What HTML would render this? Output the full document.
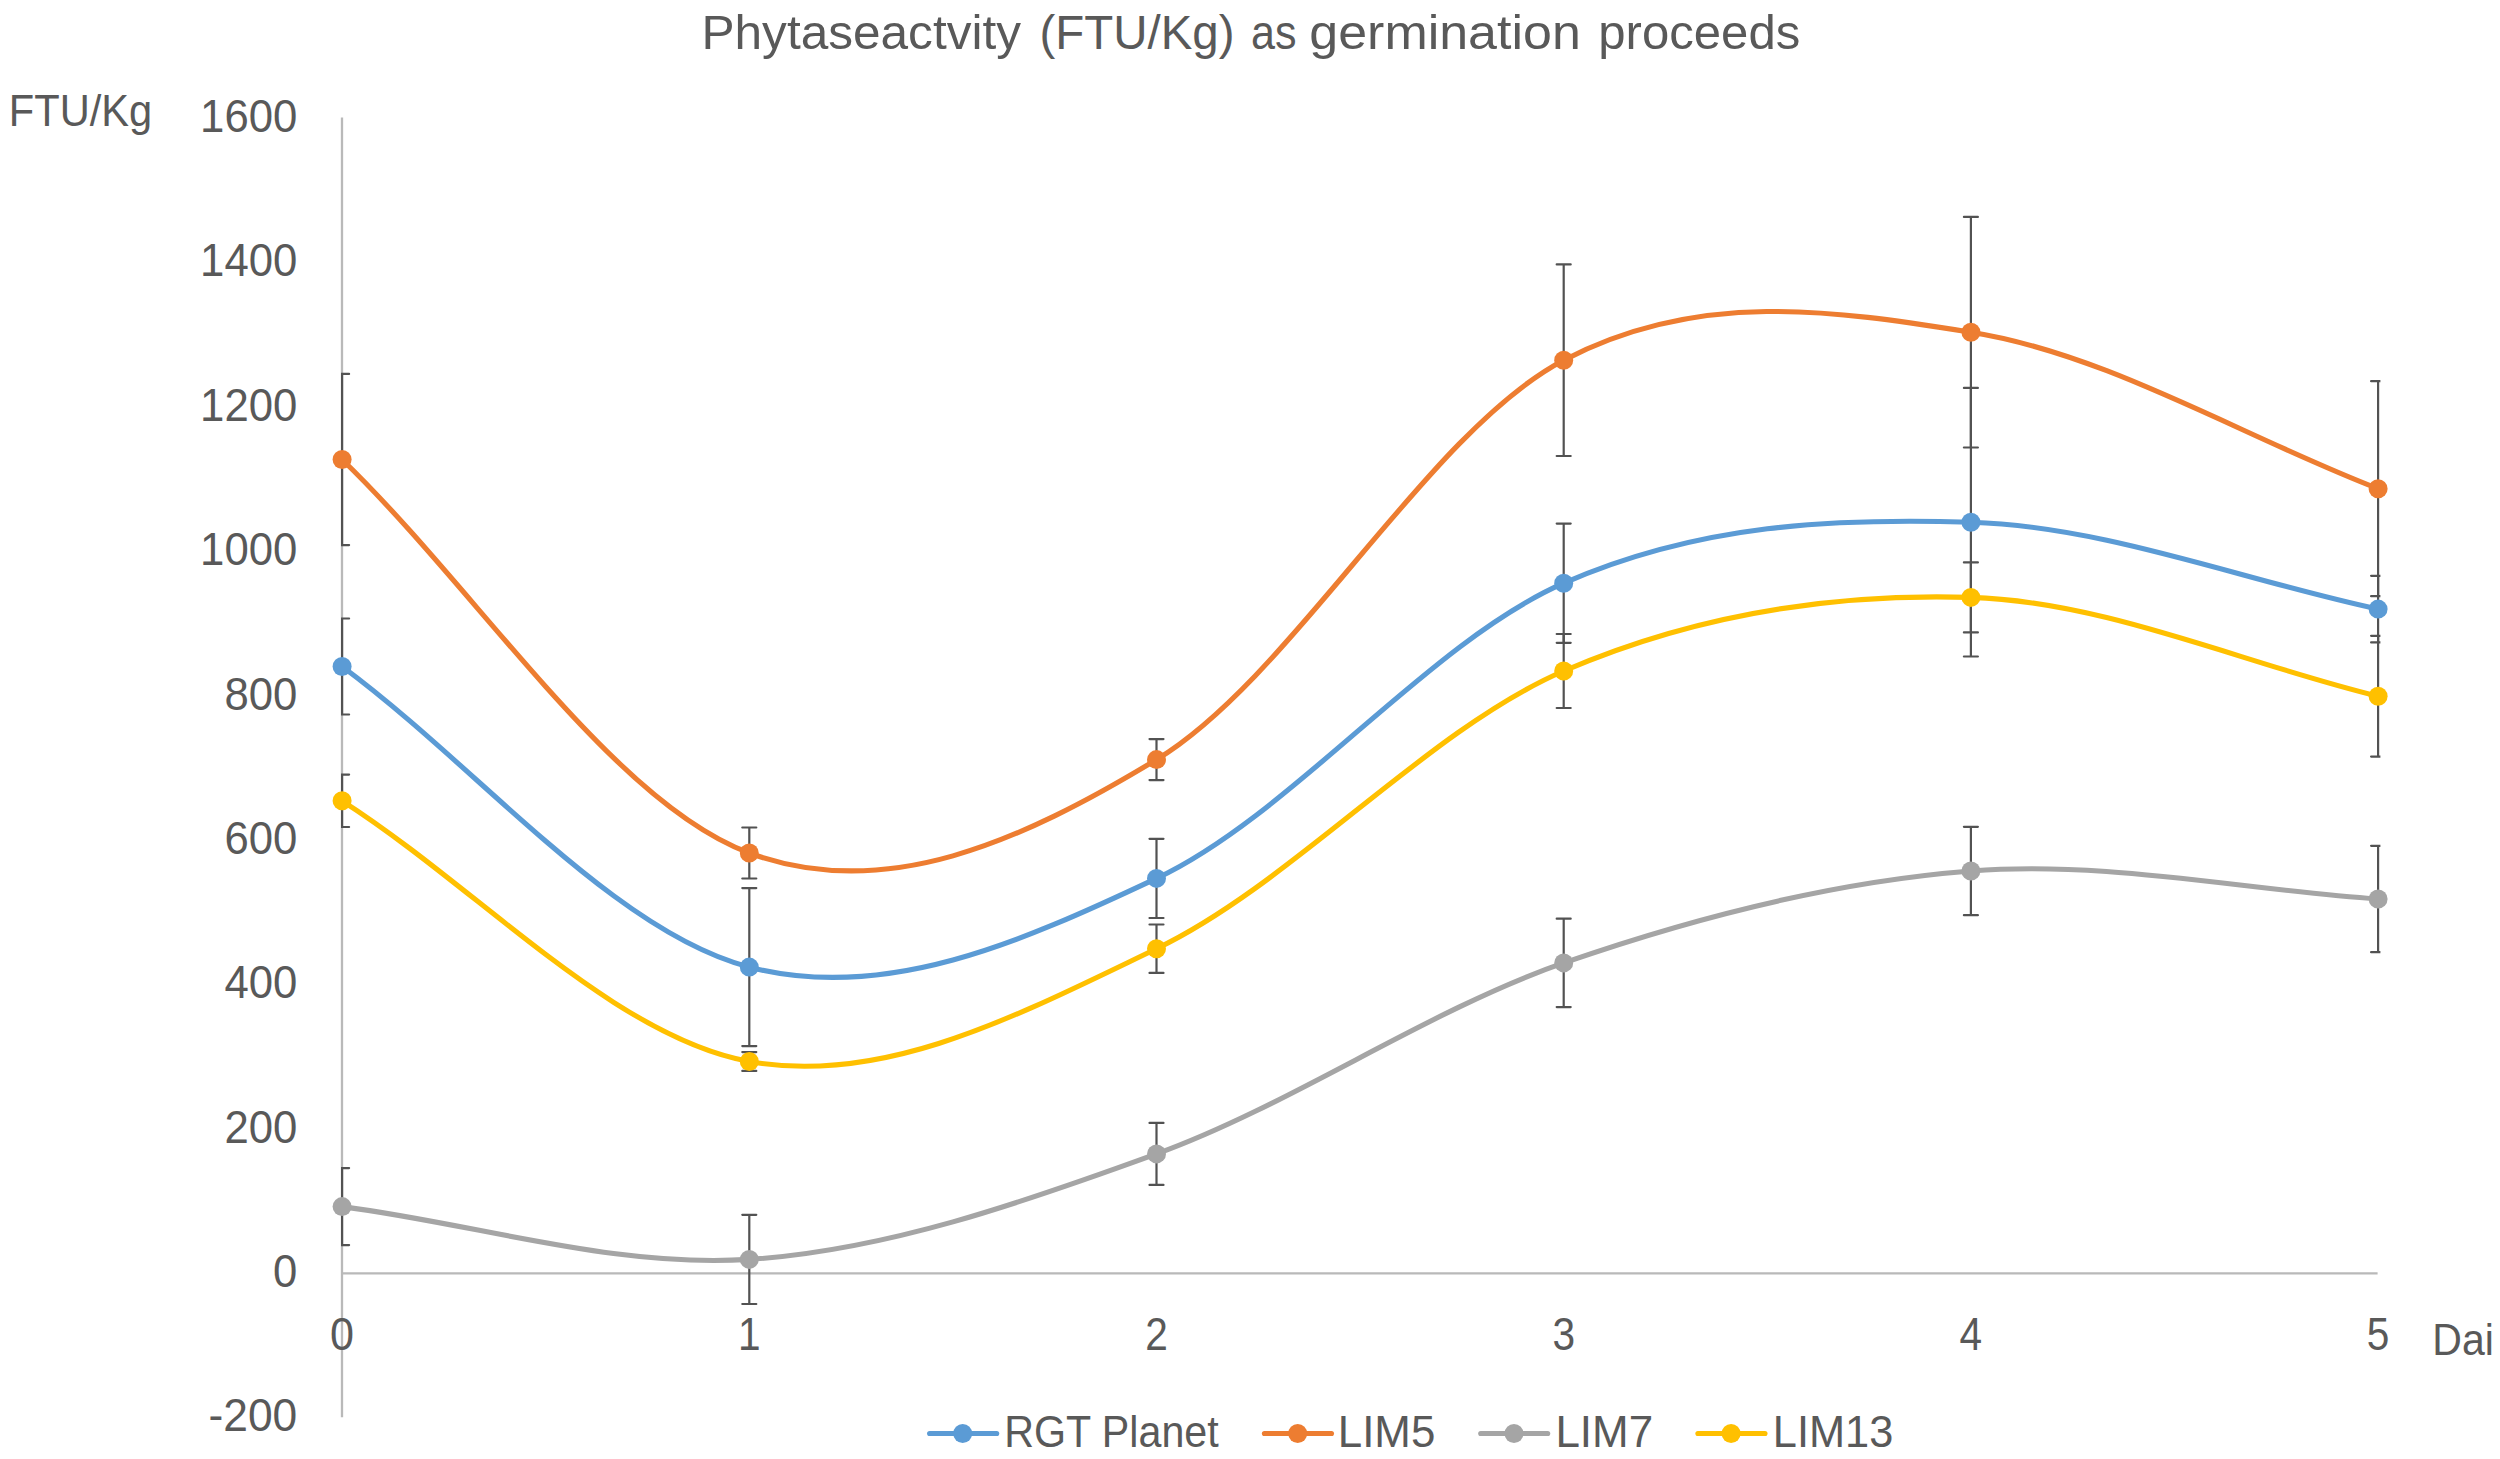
<!DOCTYPE html>
<html lang="en">
<head>
<meta charset="utf-8">
<title>Phytaseactvity (FTU/Kg) as germination proceeds</title>
<style>
html,body{margin:0;padding:0;background:#fff;}
body{width:2500px;height:1459px;overflow:hidden;}
svg{display:block;}
text{font-family:"Liberation Sans",sans-serif;fill:#595959;}
.ax{font-size:44px;}
.dg{font-size:45.8px;}
.ttl{font-size:48px;}
.eb{stroke:#525252;stroke-width:2.2;fill:none;stroke-linecap:round;}
.axis{stroke:#b9b9b9;stroke-width:2.3;fill:none;}
.ln{fill:none;stroke-width:5.1;stroke-linecap:round;stroke-linejoin:round;}
</style>
</head>
<body>
<svg width="2500" height="1459" viewBox="0 0 2500 1459">
<defs><clipPath id="plot"><rect x="341" y="100" width="2039.4" height="1330"/></clipPath></defs>
<rect width="2500" height="1459" fill="#fff"/>
<text class="ttl" y="49"><tspan x="701.5" textLength="319.5" lengthAdjust="spacingAndGlyphs">Phytaseactvity</tspan> <tspan x="1039.5" textLength="195" lengthAdjust="spacingAndGlyphs">(FTU/Kg)</tspan> <tspan x="1251" textLength="45.5" lengthAdjust="spacingAndGlyphs">as</tspan> <tspan x="1309.3" textLength="271.5" lengthAdjust="spacingAndGlyphs">germination</tspan> <tspan x="1598.3" textLength="202" lengthAdjust="spacingAndGlyphs">proceeds</tspan></text>
<text class="ax" x="8.8" y="126.2" textLength="143.5" lengthAdjust="spacingAndGlyphs">FTU/Kg</text>
<text class="dg" x="200.1" y="132.0" textLength="97.2" lengthAdjust="spacingAndGlyphs">1600</text>
<text class="dg" x="200.1" y="276.3" textLength="97.2" lengthAdjust="spacingAndGlyphs">1400</text>
<text class="dg" x="200.1" y="420.7" textLength="97.2" lengthAdjust="spacingAndGlyphs">1200</text>
<text class="dg" x="200.1" y="565.1" textLength="97.2" lengthAdjust="spacingAndGlyphs">1000</text>
<text class="dg" x="224.4" y="709.5" textLength="72.9" lengthAdjust="spacingAndGlyphs">800</text>
<text class="dg" x="224.4" y="853.9" textLength="72.9" lengthAdjust="spacingAndGlyphs">600</text>
<text class="dg" x="224.4" y="998.2" textLength="72.9" lengthAdjust="spacingAndGlyphs">400</text>
<text class="dg" x="224.4" y="1142.6" textLength="72.9" lengthAdjust="spacingAndGlyphs">200</text>
<text class="dg" x="273.0" y="1287.0" textLength="24.3" lengthAdjust="spacingAndGlyphs">0</text>
<text class="dg" x="208.5" y="1431.4" textLength="88.8" lengthAdjust="spacingAndGlyphs">-200</text>
<line class="axis" x1="342" y1="117.5" x2="342" y2="1417.3"/>
<line class="axis" x1="342" y1="1273.3" x2="2377.6" y2="1273.3"/>
<text class="dg" x="330.1" y="1350" textLength="24" lengthAdjust="spacingAndGlyphs">0</text>
<text class="dg" x="738.0" y="1350" textLength="22.6" lengthAdjust="spacingAndGlyphs">1</text>
<text class="dg" x="1145.2" y="1350" textLength="22.6" lengthAdjust="spacingAndGlyphs">2</text>
<text class="dg" x="1552.4" y="1350" textLength="22.6" lengthAdjust="spacingAndGlyphs">3</text>
<text class="dg" x="1959.6" y="1350" textLength="22.6" lengthAdjust="spacingAndGlyphs">4</text>
<text class="dg" x="2366.8" y="1350" textLength="22.6" lengthAdjust="spacingAndGlyphs">5</text>
<text class="ax" x="2432.3" y="1354.6" textLength="61.5" lengthAdjust="spacingAndGlyphs">Dai</text>
<g clip-path="url(#plot)">
<path class="eb" d="M342.1,618.5V714.5M335.1,618.5H349.1M335.1,714.5H349.1M749.3,888.1V1046.1M742.3,888.1H756.3M742.3,1046.1H756.3M1156.5,838.8V918.0M1149.5,838.8H1163.5M1149.5,918.0H1163.5M1563.7,523.6V642.8M1556.7,523.6H1570.7M1556.7,642.8H1570.7M1970.9,387.9V656.5M1963.9,387.9H1977.9M1963.9,656.5H1977.9M2378.1,575.8V642.4M2371.1,575.8H2385.1M2371.1,642.4H2385.1"/>
<path class="eb" d="M342.1,373.9V545.1M335.1,373.9H349.1M335.1,545.1H349.1M749.3,827.5V878.5M742.3,827.5H756.3M742.3,878.5H756.3M1156.5,739.1V780.1M1149.5,739.1H1163.5M1149.5,780.1H1163.5M1563.7,264.4V456.0M1556.7,264.4H1570.7M1556.7,456.0H1570.7M1970.9,216.9V447.5M1963.9,216.9H1977.9M1963.9,447.5H1977.9M2378.1,381.2V596.2M2371.1,381.2H2385.1M2371.1,596.2H2385.1"/>
<path class="eb" d="M342.1,1168.1V1245.1M335.1,1168.1H349.1M335.1,1245.1H349.1M749.3,1214.8V1304.0M742.3,1214.8H756.3M742.3,1304.0H756.3M1156.5,1122.9V1184.9M1149.5,1122.9H1163.5M1149.5,1184.9H1163.5M1563.7,918.7V1007.1M1556.7,918.7H1570.7M1556.7,1007.1H1570.7M1970.9,826.8V915.2M1963.9,826.8H1977.9M1963.9,915.2H1977.9M2378.1,845.8V952.2M2371.1,845.8H2385.1M2371.1,952.2H2385.1"/>
<path class="eb" d="M342.1,774.6V827.0M335.1,774.6H349.1M335.1,827.0H349.1M749.3,1052.1V1070.9M742.3,1052.1H756.3M742.3,1070.9H756.3M1156.5,924.5V972.9M1149.5,924.5H1163.5M1149.5,972.9H1163.5M1563.7,634.0V708.0M1556.7,634.0H1570.7M1556.7,708.0H1570.7M1970.9,562.4V632.4M1963.9,562.4H1977.9M1963.9,632.4H1977.9M2378.1,635.8V756.6M2371.1,635.8H2385.1M2371.1,756.6H2385.1"/>
</g>
<path class="ln" stroke="#5B9BD5" d="M342.1,666.5 C477.9,766.7 613.6,931.8 749.3,967.1 C885.1,1002.4 1020.8,942.4 1156.5,878.4 C1292.3,814.4 1428.0,642.6 1563.7,583.2 C1699.4,523.8 1835.2,517.9 1970.9,522.2 C2106.6,526.5 2242.4,580.1 2378.1,609.1"/>
<circle cx="342.1" cy="666.5" r="9.5" fill="#5B9BD5"/>
<circle cx="749.3" cy="967.1" r="9.5" fill="#5B9BD5"/>
<circle cx="1156.5" cy="878.4" r="9.5" fill="#5B9BD5"/>
<circle cx="1563.7" cy="583.2" r="9.5" fill="#5B9BD5"/>
<circle cx="1970.9" cy="522.2" r="9.5" fill="#5B9BD5"/>
<circle cx="2378.1" cy="609.1" r="9.5" fill="#5B9BD5"/>
<path class="ln" stroke="#ED7D31" d="M342.1,459.5 C477.9,590.7 613.6,803.0 749.3,853.0 C885.1,903.0 1020.8,841.7 1156.5,759.6 C1292.3,677.5 1428.0,431.4 1563.7,360.2 C1699.4,289.0 1835.2,310.8 1970.9,332.2 C2106.6,353.6 2242.4,436.5 2378.1,488.7"/>
<circle cx="342.1" cy="459.5" r="9.5" fill="#ED7D31"/>
<circle cx="749.3" cy="853.0" r="9.5" fill="#ED7D31"/>
<circle cx="1156.5" cy="759.6" r="9.5" fill="#ED7D31"/>
<circle cx="1563.7" cy="360.2" r="9.5" fill="#ED7D31"/>
<circle cx="1970.9" cy="332.2" r="9.5" fill="#ED7D31"/>
<circle cx="2378.1" cy="488.7" r="9.5" fill="#ED7D31"/>
<path class="ln" stroke="#A5A5A5" d="M342.1,1206.6 C477.9,1224.2 613.6,1268.2 749.3,1259.4 C885.1,1250.6 1020.8,1203.3 1156.5,1153.9 C1292.3,1104.5 1428.0,1010.0 1563.7,962.9 C1699.4,915.8 1835.2,881.6 1970.9,871.0 C2106.6,860.4 2242.4,889.7 2378.1,899.0"/>
<circle cx="342.1" cy="1206.6" r="9.5" fill="#A5A5A5"/>
<circle cx="749.3" cy="1259.4" r="9.5" fill="#A5A5A5"/>
<circle cx="1156.5" cy="1153.9" r="9.5" fill="#A5A5A5"/>
<circle cx="1563.7" cy="962.9" r="9.5" fill="#A5A5A5"/>
<circle cx="1970.9" cy="871.0" r="9.5" fill="#A5A5A5"/>
<circle cx="2378.1" cy="899.0" r="9.5" fill="#A5A5A5"/>
<path class="ln" stroke="#FFC000" d="M342.1,800.8 C477.9,887.7 613.6,1036.8 749.3,1061.5 C885.1,1086.2 1020.8,1013.8 1156.5,948.7 C1292.3,883.6 1428.0,729.5 1563.7,671.0 C1699.4,612.5 1835.2,593.2 1970.9,597.4 C2106.6,601.6 2242.4,663.3 2378.1,696.2"/>
<circle cx="342.1" cy="800.8" r="9.5" fill="#FFC000"/>
<circle cx="749.3" cy="1061.5" r="9.5" fill="#FFC000"/>
<circle cx="1156.5" cy="948.7" r="9.5" fill="#FFC000"/>
<circle cx="1563.7" cy="671.0" r="9.5" fill="#FFC000"/>
<circle cx="1970.9" cy="597.4" r="9.5" fill="#FFC000"/>
<circle cx="2378.1" cy="696.2" r="9.5" fill="#FFC000"/>
<line class="ln" stroke="#5B9BD5" x1="929.6" y1="1433.5" x2="996.6999999999999" y2="1433.5"/>
<circle cx="962.7" cy="1433.5" r="9.5" fill="#5B9BD5"/>
<text class="ax" x="1004.2" y="1447" textLength="214.5" lengthAdjust="spacingAndGlyphs">RGT Planet</text>
<line class="ln" stroke="#ED7D31" x1="1264.3999999999999" y1="1433.5" x2="1331.5" y2="1433.5"/>
<circle cx="1297.7" cy="1433.5" r="9.5" fill="#ED7D31"/>
<text class="ax" x="1337.8" y="1447" textLength="97.5" lengthAdjust="spacingAndGlyphs">LIM5</text>
<line class="ln" stroke="#A5A5A5" x1="1480.6999999999998" y1="1433.5" x2="1547.7" y2="1433.5"/>
<circle cx="1514.0" cy="1433.5" r="9.5" fill="#A5A5A5"/>
<text class="ax" x="1555.4" y="1447" textLength="97.7" lengthAdjust="spacingAndGlyphs">LIM7</text>
<line class="ln" stroke="#FFC000" x1="1697.8999999999999" y1="1433.5" x2="1765.0" y2="1433.5"/>
<circle cx="1731.1" cy="1433.5" r="9.5" fill="#FFC000"/>
<text class="ax" x="1772.8" y="1447" textLength="120.5" lengthAdjust="spacingAndGlyphs">LIM13</text>
</svg>
</body>
</html>
